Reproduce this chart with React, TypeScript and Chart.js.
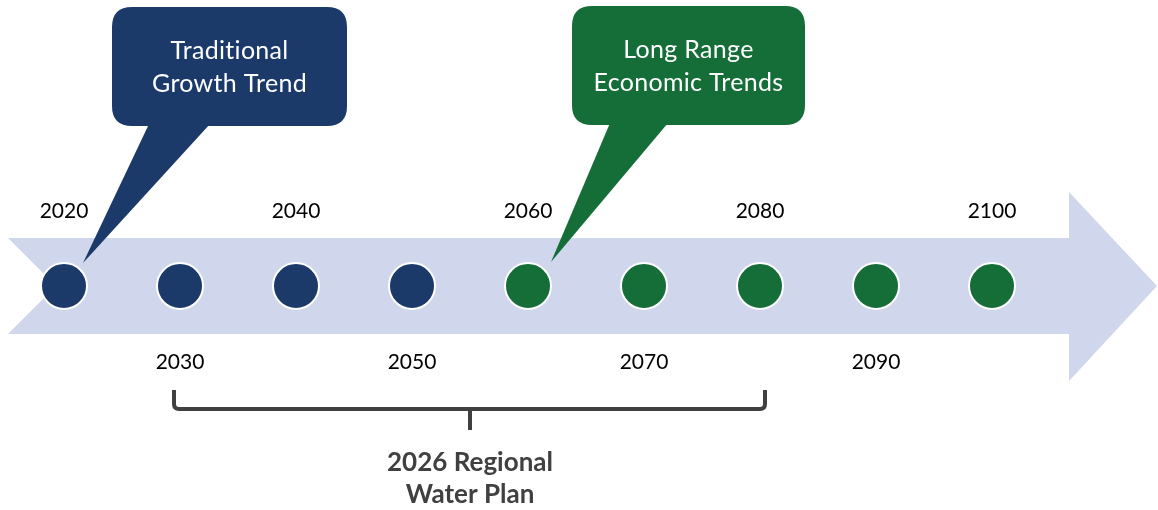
import React, { useEffect, useRef } from "react";
import { Chart, registerables } from "chart.js";

Chart.register(...registerables);

// ---- data ----
const years = [2020, 2030, 2040, 2050, 2060, 2070, 2080, 2090, 2100];
const phases = ["Traditional", "Traditional", "Traditional", "Traditional", "Long", "Long", "Long", "Long", "Long"];
const labelSides = ["above", "below", "above", "below", "above", "below", "above", "below", "above"];
const calloutTexts = [["Traditional", "Growth Trend"], ["Long Range", "Economic Trends"]];
const calloutPhases = ["Traditional", "Long"];
const planRange = [2030, 2080];
const planLabel = ["2026 Regional", "Water Plan"];

// ---- styles / layout ----
const W = 1158;
const H = 510;
const PX_PER_YEAR = 11.6;
const X_MIN = 2020 - 64 / PX_PER_YEAR;
const X_MAX = X_MIN + W / PX_PER_YEAR;
const LINE_Y = 286;
const COLORS: Record<string, string> = { Traditional: "#1B3A6A", Long: "#156D38" };
const ARROW_COLOR = "#D0D6EB";
const FONT = "Lato, 'Open Sans', sans-serif";

const calloutBoxes = [
  { left: 112, right: 347, top: 7, bottom: 126, tailL: 149, tailR: 210, tipX: 83, tipY: 263 },
  { left: 572, right: 805, top: 6, bottom: 125, tailL: 610, tailR: 668, tipX: 551, tipY: 262 },
];

function roundRect(ctx: CanvasRenderingContext2D, x: number, y: number, w: number, h: number, r: number) {
  ctx.beginPath();
  ctx.moveTo(x + r, y);
  ctx.lineTo(x + w - r, y);
  ctx.quadraticCurveTo(x + w, y, x + w, y + r);
  ctx.lineTo(x + w, y + h - r);
  ctx.quadraticCurveTo(x + w, y + h, x + w - r, y + h);
  ctx.lineTo(x + r, y + h);
  ctx.quadraticCurveTo(x, y + h, x, y + h - r);
  ctx.lineTo(x, y + r);
  ctx.quadraticCurveTo(x, y, x + r, y);
  ctx.closePath();
}

const timelinePlugin = {
  id: "timeline",
  beforeDatasetsDraw(chart: any) {
    const ctx: CanvasRenderingContext2D = chart.ctx;
    const xs = chart.scales.x;
    const ys = chart.scales.y;
    const cy = ys.getPixelForValue(LINE_Y);
    ctx.save();
    const startX = xs.getPixelForValue(X_MIN) + 8;
    const shaftEnd = xs.getPixelForValue(2100) + 77;
    const tipX = xs.getPixelForValue(X_MAX) - 1;
    ctx.fillStyle = ARROW_COLOR;
    ctx.beginPath();
    ctx.moveTo(startX, cy - 48);
    ctx.lineTo(shaftEnd, cy - 48);
    ctx.lineTo(shaftEnd, cy - 94);
    ctx.lineTo(tipX, cy);
    ctx.lineTo(shaftEnd, cy + 95);
    ctx.lineTo(shaftEnd, cy + 48);
    ctx.lineTo(startX, cy + 48);
    ctx.lineTo(startX + 48, cy);
    ctx.closePath();
    ctx.fill();

    calloutTexts.forEach((lines, i) => {
      const b = calloutBoxes[i];
      ctx.fillStyle = COLORS[calloutPhases[i]];
      roundRect(ctx, b.left, b.top, b.right - b.left, b.bottom - b.top, 20);
      ctx.fill();
      ctx.beginPath();
      ctx.moveTo(b.tailL, b.bottom - 2);
      ctx.lineTo(b.tipX, b.tipY);
      ctx.lineTo(b.tailR, b.bottom - 2);
      ctx.closePath();
      ctx.fill();
      ctx.fillStyle = "#FFFFFF";
      ctx.font = `25px ${FONT}`;
      (ctx as any).letterSpacing = "0.3px";
      ctx.textAlign = "center";
      ctx.textBaseline = "middle";
      const cx = (b.left + b.right) / 2;
      lines.forEach((t, k) => ctx.fillText(t, cx, b.top + 44 + k * 33));
    });
    ctx.restore();
  },
  afterDatasetsDraw(chart: any) {
    const ctx: CanvasRenderingContext2D = chart.ctx;
    const xs = chart.scales.x;
    const ys = chart.scales.y;
    const cy = ys.getPixelForValue(LINE_Y);
    ctx.save();
    ctx.fillStyle = "#000000";
    ctx.font = `21px ${FONT}`;
    ctx.textAlign = "center";
    ctx.textBaseline = "middle";
    years.forEach((yr, i) => {
      const x = xs.getPixelForValue(yr);
      const y = labelSides[i] === "above" ? cy - 75 : cy + 76;
      ctx.fillText(String(yr), x, y);
    });
    const l = xs.getPixelForValue(planRange[0]) - 6;
    const r = xs.getPixelForValue(planRange[1]) + 5;
    const m = xs.getPixelForValue((planRange[0] + planRange[1]) / 2);
    ctx.strokeStyle = "#404040";
    ctx.lineWidth = 4;
    ctx.lineJoin = "round";
    ctx.beginPath();
    ctx.moveTo(l, 390);
    ctx.lineTo(l, 404);
    ctx.quadraticCurveTo(l, 409, l + 5, 409);
    ctx.lineTo(r - 5, 409);
    ctx.quadraticCurveTo(r, 409, r, 404);
    ctx.lineTo(r, 390);
    ctx.stroke();
    ctx.beginPath();
    ctx.moveTo(m, 409);
    ctx.lineTo(m, 430);
    ctx.stroke();
    ctx.fillStyle = "#404040";
    ctx.font = `bold 26px ${FONT}`;
    planLabel.forEach((t, k) => ctx.fillText(t, m, 463 + k * 32));
    ctx.restore();
  },
};

export default function App() {
  const ref = useRef<HTMLCanvasElement>(null);
  useEffect(() => {
    if (!ref.current) return;
    const chart = new Chart(ref.current, {
      type: "scatter",
      data: {
        datasets: [
          {
            data: years.map((yr) => ({ x: yr, y: LINE_Y })),
            pointRadius: 23,
            pointHoverRadius: 23,
            pointBackgroundColor: phases.map((p) => COLORS[p]),
            pointBorderColor: "#FFFFFF",
            pointBorderWidth: 2,
          },
        ],
      },
      options: {
        animation: false,
        responsive: false,
        events: [],
        layout: { padding: 0, autoPadding: false },
        plugins: { legend: { display: false }, tooltip: { enabled: false } },
        scales: {
          x: { type: "linear", min: X_MIN, max: X_MAX, display: false },
          y: { type: "linear", min: 0, max: H, reverse: true, display: false },
        },
      },
      plugins: [timelinePlugin],
    });
    return () => chart.destroy();
  }, []);
  return (
    <div style={{ position: "fixed", left: 0, top: 0, width: W, height: H, background: "#fff" }}>
      <canvas ref={ref} width={W} height={H} style={{ display: "block" }} />
    </div>
  );
}
